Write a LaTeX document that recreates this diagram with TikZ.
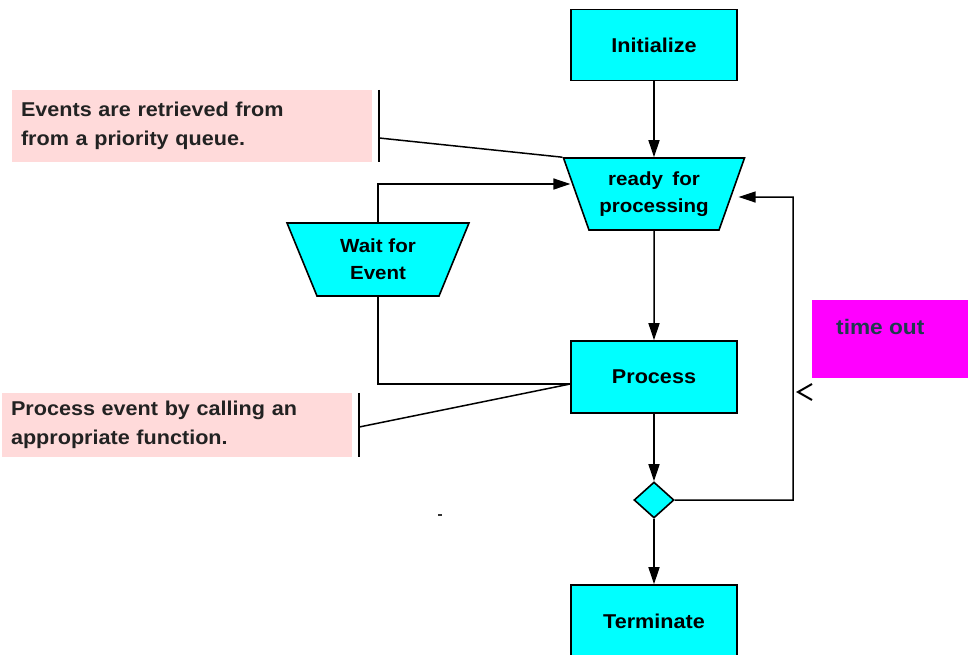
\documentclass[tikz,border=0pt]{standalone}
\usepackage{fontspec}
\setmainfont{Liberation Sans}[FakeStretch=1.08]
\usepackage{xcolor}
\usepackage{tikz}
\usetikzlibrary{
    arrows.meta,
    shapes.geometric,
    calc
}
\definecolor{flowcyan}{HTML}{00FFFF}
\definecolor{notepink}{HTML}{FFDADA}
\definecolor{notetext}{HTML}{222222}
\definecolor{alertmag}{HTML}{FF00FF}
\definecolor{alerttext}{HTML}{1F3A4D}
\tikzset{%
   stepbox/.style={
      draw=black,
      fill=flowcyan,
      line width=1.6pt,
      minimum width=166pt,
      minimum height=71pt,
      inner sep=0pt,
      font=\fontsize{20}{24}\selectfont\bfseries
   },
   hopper/.style={
      trapezium,
      trapezium stretches=true,
      shape border rotate=180,
      draw=black,
      fill=flowcyan,
      line width=1.6pt,
      inner sep=0pt,
      align=center,
      font=\fontsize{19}{27}\selectfont\bfseries
   },
   choice/.style={
      diamond,
      draw=black,
      fill=flowcyan,
      line width=1.6pt,
      minimum width=40pt,
      minimum height=36pt,
      inner sep=0pt
   },
   note/.style={
      fill=notepink,
      text=notetext,
      inner xsep=9pt,
      inner ysep=0pt,
      align=left,
      font=\fontsize{20}{28.5}\selectfont\bfseries
   },
   arr/.style={
      -{Triangle[length=17pt,width=11pt]},
      line width=1.5pt
   },
   wire/.style={
      line width=1.5pt
   },
}

\begin{document}
\begin{tikzpicture}[x=1pt, y=-1pt]
      \useasboundingbox (0,0) rectangle (968,654);
      % main column
      \node[stepbox] (init) at (654,45) {Initialize};
      \node[hopper, minimum width=181pt, minimum height=72pt,
            trapezium angle=64.4] (ready) at (654,194) {ready\enspace for\\processing};
      \node[stepbox, minimum height=72pt] (proc) at (654,377) {Process};
      \node[choice] (dec) at (654,500) {};
      \node[stepbox, minimum height=72pt] (term) at (654,621) {Terminate};
      \node[hopper, minimum width=182pt, minimum height=73pt,
            trapezium angle=65.6] (wait) at (378,259.5) {Wait for\\Event};

      \draw[arr] (init) -- (ready);
      \draw[arr] (ready) -- (proc);
      \draw[arr] (proc) -- (dec);
      \draw[arr] (dec) -- (term);

      % event loop
      \coordinate (pin) at ([yshift=-7pt]proc.west);
      \draw[arr] (wait.north) |- ([xshift=-5pt,yshift=10pt]ready.west);
      \draw[wire] (wait.south) |- (pin);

      % time out loop
      \coordinate (back) at (793,197);
      \draw[arr] (dec.east) -| (back) -- ([xshift=6pt,yshift=-3pt]ready.east);
      \node[fill=alertmag, minimum width=156pt, minimum height=78pt] (tobox) at (890,339) {};
      \node[anchor=west, inner sep=0pt, text=alerttext,
            font=\fontsize{21}{24}\selectfont\bfseries] (tolbl) at (836,327) {time out};
      \coordinate (barb) at (798,392);
      \draw[line width=2pt] (812,384) -- (barb) -- (812,400);

      % notes
      \node[note, minimum width=360pt, minimum height=72pt, text width=342pt] (qnote) at (192,126)
         {Events are retrieved from\\from a priority queue.};
      \node[note, minimum width=350pt, minimum height=64pt, text width=332pt] (pnote) at (177,425)
         {Process event by calling an\\appropriate function.};
      \draw[wire] ([xshift=7pt]qnote.north east) -- ([xshift=7pt]qnote.south east);
      \draw[wire] ([xshift=7pt,yshift=-12pt]qnote.east) -- (ready.bottom right corner);
      \draw[wire] ([xshift=7pt]pnote.north east) -- ([xshift=7pt]pnote.south east);
      \draw[wire] ([xshift=7pt,yshift=-2pt]pnote.east) -- (pin);

      \fill[black!80] (438,514) rectangle (442,516);
   \end{tikzpicture}
\end{document}
